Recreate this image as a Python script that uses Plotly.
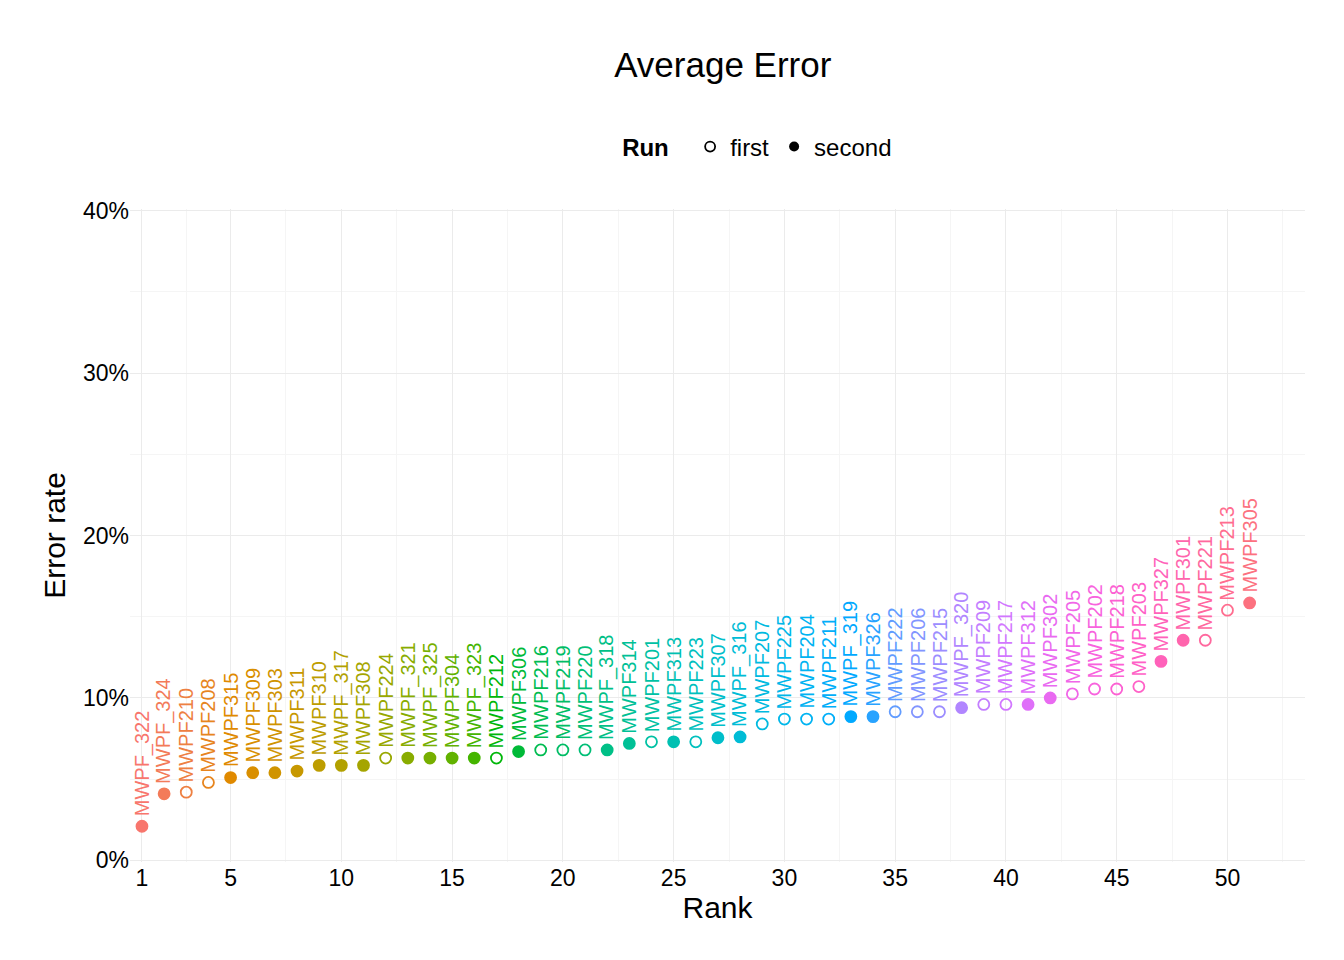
import math
import plotly.graph_objects as go

labels = ["MWPF_322", "MWPF_324", "MWPF210", "MWPF208", "MWPF315", "MWPF309", "MWPF303",
          "MWPF311", "MWPF310", "MWPF_317", "MWPF308", "MWPF224", "MWPF_321", "MWPF_325",
          "MWPF304", "MWPF_323", "MWPF212", "MWPF306", "MWPF216", "MWPF219", "MWPF220",
          "MWPF_318", "MWPF314", "MWPF201", "MWPF313", "MWPF223", "MWPF307", "MWPF_316",
          "MWPF207", "MWPF225", "MWPF204", "MWPF211", "MWPF_319", "MWPF326", "MWPF222",
          "MWPF206", "MWPF215", "MWPF_320", "MWPF209", "MWPF217", "MWPF312", "MWPF302",
          "MWPF205", "MWPF202", "MWPF218", "MWPF203", "MWPF327", "MWPF301", "MWPF221",
          "MWPF213", "MWPF305"]
error = [2.1, 4.1, 4.2, 4.8, 5.1, 5.4, 5.4, 5.5, 5.85, 5.85, 5.85, 6.3, 6.3, 6.3, 6.3, 6.3,
         6.3, 6.7, 6.8, 6.8, 6.8, 6.8, 7.2, 7.3, 7.3, 7.3, 7.55, 7.6, 8.4, 8.7, 8.7, 8.7,
         8.85, 8.85, 9.15, 9.15, 9.15, 9.4, 9.6, 9.6, 9.6, 10.0, 10.25, 10.55, 10.55, 10.7,
         12.25, 13.55, 13.55, 15.4, 15.85]
run = ["second", "second", "first", "first", "second", "second", "second", "second",
       "second", "second", "second", "first", "second", "second", "second", "second",
       "first", "second", "first", "first", "first", "second", "second", "first",
       "second", "first", "second", "second", "first", "first", "first", "first",
       "second", "second", "first", "first", "first", "second", "first", "first",
       "second", "second", "first", "first", "first", "first", "second", "second",
       "first", "first", "second"]
rank = list(range(1, len(labels) + 1))


def hcl(h, c=100, l=65):
    # polar Luv -> sRGB hex
    hr = math.radians(h)
    u, v = c * math.cos(hr), c * math.sin(hr)
    xn, yn, zn = 0.95047, 1.0, 1.08883
    un = 4 * xn / (xn + 15 * yn + 3 * zn)
    vn = 9 * yn / (xn + 15 * yn + 3 * zn)
    y = yn * (((l + 16) / 116) ** 3 if l > 8 else l / 903.3)
    up, vp = u / (13 * l) + un, v / (13 * l) + vn
    x = y * 9 * up / (4 * vp)
    z = y * (12 - 3 * up - 20 * vp) / (4 * vp)
    r = 3.2406 * x - 1.5372 * y - 0.4986 * z
    g = -0.9689 * x + 1.8758 * y + 0.0415 * z
    b = 0.0557 * x - 0.2040 * y + 1.0570 * z

    def gam(c):
        c = 12.92 * c if c <= 0.0031308 else 1.055 * c ** (1 / 2.4) - 0.055
        return max(0, min(255, round(c * 255)))
    return "#%02x%02x%02x" % (gam(r), gam(g), gam(b))


n = len(labels)
colors = [hcl(15 + 360 * i / n) for i in range(n)]

fig = go.Figure()
for name, sym in [("first", "circle-open"), ("second", "circle")]:
    idx = [i for i in range(n) if run[i] == name]
    fig.add_trace(go.Scatter(
        x=[rank[i] for i in idx], y=[error[i] / 100 for i in idx], mode="markers",
        name=name, showlegend=False,
        marker=dict(symbol=sym, size=11, color=[colors[i] for i in idx],
                    line=dict(width=1.8, color=[colors[i] for i in idx])),
    ))
# legend keys in black
fig.add_trace(go.Scatter(x=[None], y=[None], mode="markers", name="first",
                         marker=dict(symbol="circle-open", size=10, color="black", line=dict(width=1.8))))
fig.add_trace(go.Scatter(x=[None], y=[None], mode="markers", name="second",
                         marker=dict(symbol="circle", size=10, color="black")))

for i in range(n):
    fig.add_annotation(x=rank[i], y=error[i] / 100, text=labels[i], textangle=-90,
                       showarrow=False, yanchor="bottom", yshift=8,
                       font=dict(size=20, color=colors[i]))

# page body adds an 8px margin, so the figure is 8px smaller
fig.update_layout(
    width=1336, height=952, plot_bgcolor="white", paper_bgcolor="white",
    font=dict(family="Liberation Sans, Arial", color="black"),
    title=dict(text="Average Error", x=0.535, xanchor="center", y=0.94, yanchor="middle",
               font=dict(size=35)),
    margin=dict(l=122, r=39, t=201, b=98),
    legend=dict(orientation="h", x=0.535, xanchor="center", y=1.095, yanchor="middle",
                title=dict(text="<b>Run</b>  ", font=dict(size=24)), font=dict(size=24)),
)
fig.update_xaxes(range=[0.46, 53.5], tickvals=[1, 5, 10, 15, 20, 25, 30, 35, 40, 45, 50],
                 showgrid=True, gridcolor="#ebebeb", gridwidth=1.2, zeroline=False,
                 tickfont=dict(size=23), title=dict(text="Rank", font=dict(size=30), standoff=2),
                 minor=dict(tickvals=[3, 7.5, 12.5, 17.5, 22.5, 27.5, 32.5, 37.5, 42.5, 47.5, 52.5],
                            showgrid=True, gridcolor="#f5f5f5", gridwidth=1))
fig.update_yaxes(range=[-0.001, 0.401], tickvals=[0, 0.1, 0.2, 0.3, 0.4], tickformat=".0%",
                 showgrid=True, gridcolor="#ebebeb", gridwidth=1.2, zeroline=False,
                 tickfont=dict(size=23), title=dict(text="Error rate", font=dict(size=30), standoff=8),
                 minor=dict(tickvals=[0.05, 0.15, 0.25, 0.35], showgrid=True,
                            gridcolor="#f5f5f5", gridwidth=1))

fig.write_html("out.html")
